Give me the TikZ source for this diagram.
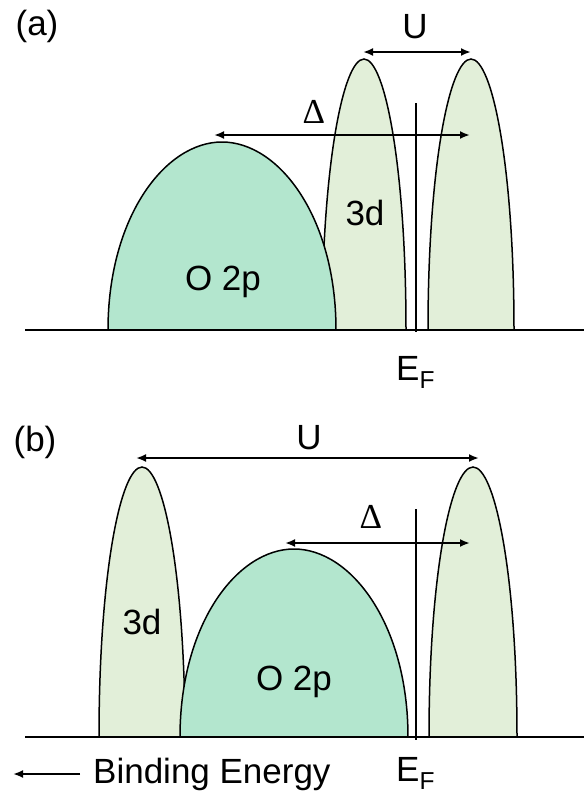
\documentclass[tikz,border=0pt]{standalone}
\usepackage{fontspec}
\setmainfont{Liberation Sans}
\newfontfamily\deltafont{Liberation Serif}
\usetikzlibrary{arrows.meta}
\definecolor{oxy}{HTML}{B3E6CE}
\definecolor{dband}{HTML}{E2EFD9}

% style, centre x, half width, base y, top y
\newcommand\bandpeak[5]{%
 \filldraw[#1] ({#2-#3},#4) .. controls ({#2-#3},{#4+0.6*(#5-#4)}) and ({#2-0.5*#3},#5) .. (#2,#5)
  .. controls ({#2+0.5*#3},#5) and ({#2+#3},{#4+0.6*(#5-#4)}) .. ({#2+#3},#4) -- cycle;}

\begin{document}
\begin{tikzpicture}[x=1pt,y=-1pt,>={Latex[length=10pt,width=8pt]},
  lbl/.style={font=\fontsize{35}{40}\selectfont,inner sep=0pt},
  dlt/.style={font=\deltafont\fontsize{35}{40}\selectfont,inner sep=0pt},
  dpeak/.style={fill=dband,draw=black,line width=1.5pt},
  opeak/.style={fill=oxy,draw=black,line width=1.5pt},
  gap/.style={<->,line width=2.2pt},
  fermi/.style={line width=2.6pt},
  axis/.style={line width=2.6pt}]
 \useasboundingbox (0,0) rectangle (584,796);
 % (a) charge transfer
 \bandpeak{dpeak}{364}{42}{330}{59}
 \bandpeak{dpeak}{471}{43}{330}{59}
 \bandpeak{opeak}{222}{114}{330}{142}
 \coordinate (axA1) at (25,330); \coordinate (axA2) at (584,330);
 \coordinate (efA1) at (416,103); \coordinate (efA2) at (416,332);
 \coordinate (uA1) at (363,52); \coordinate (uA2) at (471,52);
 \coordinate (dA1) at (214,135); \coordinate (dA2) at (470,135);
 \draw[axis] (axA1) -- (axA2);
 \draw[fermi] (efA1) -- (efA2);
 \draw[gap] (uA1) -- (uA2);
 \draw[gap] (dA1) -- (dA2);
 \node[lbl] (tagA) at (37,26) {(a)};
 \node[lbl] (uLblA) at (415,27) {U};
 \node[dlt] (dLblA) at (314,112) {Δ};
 \node[lbl] (dBandA) at (365,213) {3d};
 \node[lbl] (oBandA) at (223,282) {O 2p};
 \node[lbl,anchor=base west] (efLblA) at (396,380) {E\textsubscript{F}};
 % (b) Mott-Hubbard
 \bandpeak{dpeak}{142}{43}{737}{467}
 \bandpeak{dpeak}{473}{44}{737}{467}
 \bandpeak{opeak}{294}{114}{737}{549}
 \coordinate (axB1) at (25,737); \coordinate (axB2) at (584,737);
 \coordinate (efB1) at (416,509); \coordinate (efB2) at (416,740);
 \coordinate (uB1) at (136,458); \coordinate (uB2) at (479,458);
 \coordinate (dB1) at (285,543); \coordinate (dB2) at (470,543);
 \draw[axis] (axB1) -- (axB2);
 \draw[fermi] (efB1) -- (efB2);
 \draw[gap] (uB1) -- (uB2);
 \draw[gap] (dB1) -- (dB2);
 \node[lbl] (tagB) at (35,442) {(b)};
 \node[lbl] (uLblB) at (309,438) {U};
 \node[dlt] (dLblB) at (371,517) {Δ};
 \node[lbl] (dBandB) at (142,622) {3d};
 \node[lbl] (oBandB) at (294,682) {O 2p};
 \node[lbl,anchor=base west] (efLblB) at (396,781) {E\textsubscript{F}};
 \node[lbl,anchor=west] (bind) at (93,774) {Binding Energy};
 \draw[->,line width=2.2pt] (bind.west) ++(-13,0) coordinate (bindEnd) -- ++(-67,0);
\end{tikzpicture}
\end{document}
